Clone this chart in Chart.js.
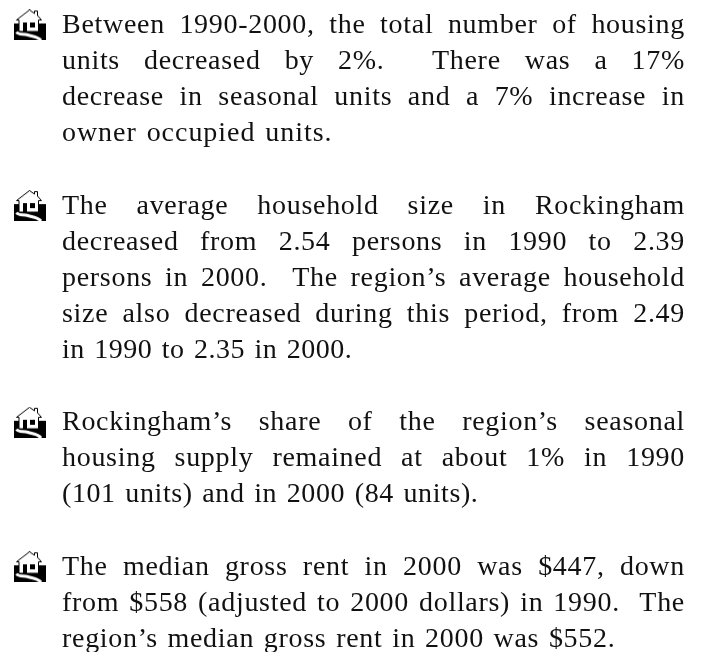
<!DOCTYPE html>
<html>
<head>
<meta charset="utf-8">
<title>Rockingham housing</title>
<script src="https://cdn.jsdelivr.net/npm/chart.js@4"></script>
<style>
  html, body { margin: 0; padding: 0; background: #fff; }
  #page { position: relative; width: 704px; height: 652px; overflow: hidden; }
  #bullets { position: absolute; left: 0; top: 0; }
  #copy {
    position: absolute; left: 62px; top: 6px; width: 623px;
    font-family: "Liberation Serif", serif; font-size: 28px; line-height: 36.12px;
    letter-spacing: 0.7px; word-spacing: 2px;
    color: #111;
  }
  .line { height: 36.12px; white-space: pre-wrap; text-align: justify; text-align-last: justify; }
  .line.last { text-align-last: left; }
  #copy .line.last.p0 { letter-spacing: 0.95px; }
  #copy .line.last.p1 { letter-spacing: 0.5px; }
  #copy .line.last.p2 { letter-spacing: 0.6px; }
</style>
</head>
<body>
<div id="page">
  <canvas id="bullets" width="704" height="652"></canvas>
  <div id="copy"></div>
</div>
<script>
// the reference has no plotted data, only four bullets of text
const paragraphs = [
  ['Between 1990-2000, the total number of housing',
   'units decreased by 2%.  There was a 17%',
   'decrease in seasonal units and a 7% increase in',
   'owner occupied units.'],
  ['The average household size in Rockingham',
   'decreased from 2.54 persons in 1990 to 2.39',
   'persons in 2000.  The region\u2019s average household',
   'size also decreased during this period, from 2.49',
   'in 1990 to 2.35 in 2000.'],
  ['Rockingham\u2019s share of the region\u2019s seasonal',
   'housing supply remained at about 1% in 1990',
   '(101 units) and in 2000 (84 units).'],
  ['The median gross rent in 2000 was $447, down',
   'from $558 (adjusted to 2000 dollars) in 1990.  The',
   'region\u2019s median gross rent in 2000 was $552.']
];

// text line each bullet icon sits on
const bulletLines = [0, 5, 11, 15];
const bulletColumn = [0, 0, 0, 0];

const copy = document.getElementById('copy');
paragraphs.forEach((lines, p) => {
  lines.forEach((text, i) => {
    const div = document.createElement('div');
    div.className = i === lines.length - 1 ? 'line last p' + p : 'line';
    div.textContent = text;
    copy.appendChild(div);
  });
  if (p < paragraphs.length - 1) {
    const gap = document.createElement('div');
    gap.className = 'line';
    copy.appendChild(gap);
  }
});

// little house icon used as the point style
function houseIcon() {
  const c = document.createElement('canvas');
  c.width = 32;
  c.height = 31;
  const g = c.getContext('2d');
  g.fillStyle = '#000';
  g.fillRect(0, 14, 32, 17);
  // roof and walls
  g.fillStyle = '#fff';
  g.strokeStyle = '#000';
  g.lineWidth = 1;
  g.beginPath();
  g.moveTo(2.5, 10.5);
  g.lineTo(15.5, 0.5);
  g.lineTo(20.5, 4);
  g.lineTo(20.5, 1.5);
  g.lineTo(23.5, 1.5);
  g.lineTo(23.5, 6);
  g.lineTo(27.5, 10.5);
  g.lineTo(24.5, 10.5);
  g.lineTo(24.5, 22);
  g.lineTo(5, 22);
  g.lineTo(5, 10.5);
  g.closePath();
  g.fill();
  g.stroke();
  // door and window
  g.fillStyle = '#000';
  g.fillRect(9, 13, 4, 9);
  g.fillRect(16, 13, 5, 5);
  // road
  g.strokeStyle = '#fff';
  g.lineWidth = 3;
  g.beginPath();
  g.moveTo(2.5, 22.5);
  g.bezierCurveTo(5, 26, 9, 24, 14, 25.5);
  g.bezierCurveTo(19, 27, 24, 27, 27, 31);
  g.stroke();
  return c;
}

new Chart(document.getElementById('bullets'), {
  type: 'scatter',
  data: {
    datasets: [{
      data: bulletLines.map((line, i) => ({ x: bulletColumn[i], y: line })),
      pointStyle: houseIcon(),
      pointRadius: 16
    }]
  },
  options: {
    responsive: false,
    animation: false,
    layout: { padding: 0, autoPadding: false },
    plugins: { legend: { display: false }, tooltip: { enabled: false } },
    scales: {
      x: { type: 'linear', display: false, min: -30, max: 674 },
      y: { type: 'linear', display: false, reverse: true, min: -0.692, max: 17.36 }
    }
  }
});
</script>
</body>
</html>
